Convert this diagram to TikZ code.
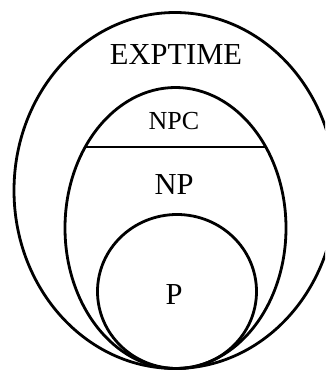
\documentclass[tikz,border=0pt]{standalone}
\usepackage{fontspec}
\setmainfont{Liberation Serif}
\begin{document}
\begin{tikzpicture}[x=1pt,y=-1pt,
  setline/.style={line width=2.8pt, black},
  bigtxt/.style={font=\fontsize{30.5}{36}\selectfont, anchor=base, inner sep=0pt},
  smalltxt/.style={font=\fontsize{26}{31}\selectfont, anchor=base, inner sep=0pt}]
\useasboundingbox (0,0) rectangle (325,370);
\begin{scope}
\clip (0,0) rectangle (325,370);
% EXPTIME
\draw[setline] (175,190.5) ellipse [x radius=161, y radius=178];
% NP
\draw[setline] (175.5,228) ellipse [x radius=110.5, y radius=140.5];
% P
\draw[setline] (177,291.5) ellipse [x radius=79.5, y radius=77];
% NPC boundary
\begin{scope}
\clip (175.5,228) ellipse [x radius=110.5, y radius=140.5];
\coordinate (cl) at (0,147);
\coordinate (cr) at (325,147);
\draw[setline] (cl) -- (cr);
\end{scope}
\end{scope}
\node[bigtxt] (exptime) at (176,64) {EXPTIME};
\node[smalltxt] (npc) at (174,129) {NPC};
\node[bigtxt] (np) at (174,194) {NP};
\node[bigtxt] (p) at (174,304) {P};
\end{tikzpicture}
\end{document}
